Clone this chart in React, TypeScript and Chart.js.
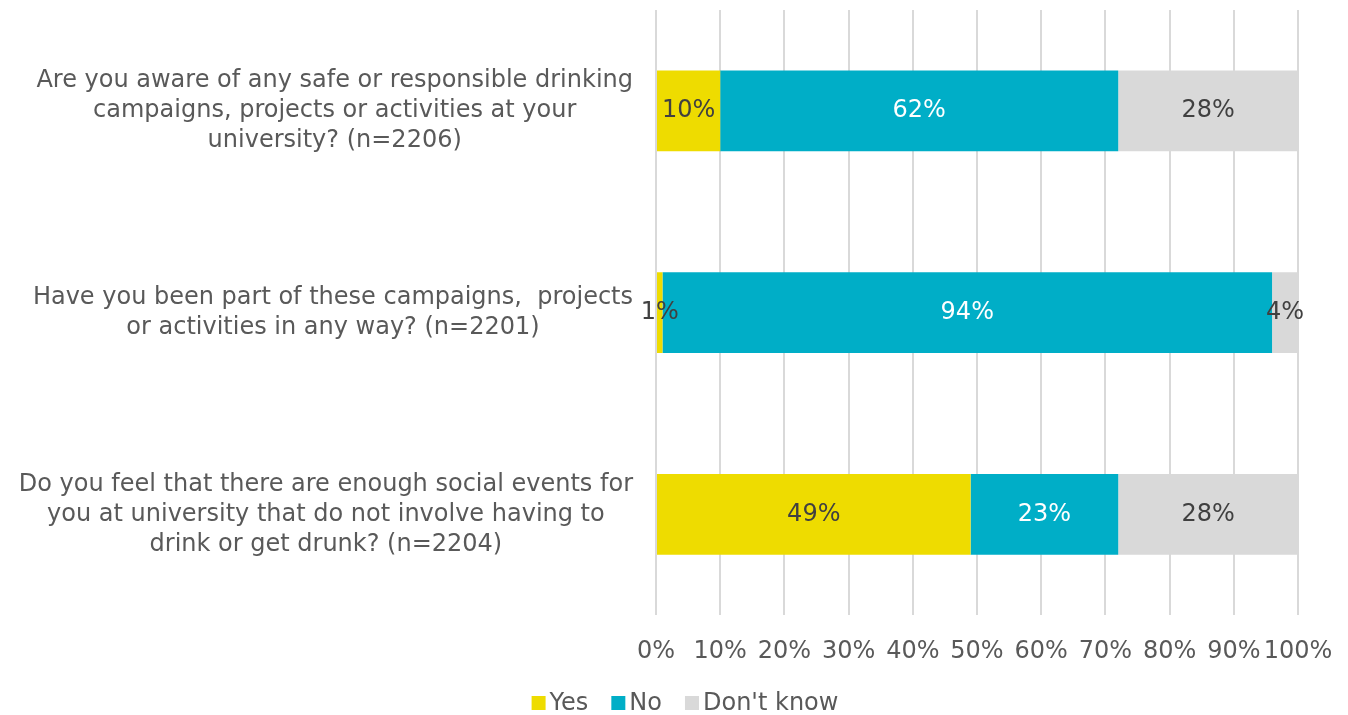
import React, { useEffect, useRef } from "react";
import { Chart, registerables } from "chart.js";

Chart.register(...registerables);

const categories: string[][] = [
  ["Are you aware of any safe or responsible drinking", "campaigns, projects or activities at your", "university? (n=2206)"],
  ["Have you been part of these campaigns,  projects", "or activities in any way? (n=2201)"],
  ["Do you feel that there are enough social events for", "you at university that do not involve having to", "drink or get drunk? (n=2204)"],
];
const seriesNames = ["Yes", "No", "Don't know"];
const yesValues = [10, 1, 49];
const noValues = [62, 94, 23];
const dontKnowValues = [28, 4, 28];
const seriesColors = ["#EEDC00", "#00AEC7", "#D9D9D9"];
const labelColors = ["#404040", "#FFFFFF", "#404040"];

const FONT = "'DejaVu Sans', Verdana, sans-serif";
const TEXT = "#595959";

const rawSeries = [yesValues, noValues, dontKnowValues];
const totals = categories.map((_, i) => rawSeries.reduce((s, arr) => s + arr[i], 0));

const dataLabelPlugin = {
  id: "dataLabels",
  afterDatasetsDraw(chart: any) {
    const { ctx } = chart;
    ctx.save();
    ctx.font = `24px ${FONT}`;
    ctx.textAlign = "center";
    ctx.textBaseline = "middle";
    chart.data.datasets.forEach((ds: any, di: number) => {
      const meta = chart.getDatasetMeta(di);
      meta.data.forEach((bar: any, i: number) => {
        const raw = rawSeries[di][i];
        const x = (bar.x + bar.base) / 2;
        ctx.fillStyle = labelColors[di];
        ctx.fillText(raw + "%", x, bar.y);
      });
    });
    ctx.restore();
  },
};

// Category labels: each label's lines centred on each other, block right-aligned to the axis
const categoryLabelPlugin = {
  id: "categoryLabels",
  afterDraw(chart: any) {
    const { ctx } = chart;
    const yScale = chart.scales.y;
    const right = chart.chartArea.left - 23;
    const lineH = 30;
    ctx.save();
    ctx.font = `24px ${FONT}`;
    ctx.fillStyle = TEXT;
    ctx.textAlign = "center";
    ctx.textBaseline = "middle";
    (chart.data.labels as string[][]).forEach((lines, i) => {
      const yc = yScale.getPixelForTick(i);
      const w = Math.max(...lines.map((l) => ctx.measureText(l).width));
      const xc = right - w / 2;
      lines.forEach((l, j) => {
        ctx.fillText(l, xc, yc + (j - (lines.length - 1) / 2) * lineH);
      });
    });
    ctx.restore();
  },
};

const legendPlugin = {
  id: "customLegend",
  afterDraw(chart: any) {
    const { ctx } = chart;
    const box = 14;
    const gap = 4;
    const spacing = 23;
    ctx.save();
    ctx.font = `24px ${FONT}`;
    ctx.textBaseline = "middle";
    ctx.textAlign = "left";
    const items = chart.data.datasets.map((ds: any) => ({
      text: ds.label,
      color: ds.backgroundColor,
      w: box + gap + ctx.measureText(ds.label).width,
    }));
    const total = items.reduce((s: number, it: any) => s + it.w, 0) + spacing * (items.length - 1);
    let x = 685 - total / 2;
    const y = 703;
    items.forEach((it: any) => {
      ctx.fillStyle = it.color;
      ctx.fillRect(x, y - box / 2, box, box);
      ctx.fillStyle = TEXT;
      ctx.fillText(it.text, x + box + gap, y + 1);
      x += it.w + spacing;
    });
    ctx.restore();
  },
};

export default function App() {
  const ref = useRef<HTMLCanvasElement | null>(null);
  useEffect(() => {
    if (!ref.current) return;
    const chart = new Chart(ref.current, {
      type: "bar",
      data: {
        labels: categories as any,
        datasets: rawSeries.map((arr, di) => ({
          label: seriesNames[di],
          data: arr.map((v, i) => (v / totals[i]) * 100),
          backgroundColor: seriesColors[di],
          borderWidth: 0,
          categoryPercentage: 1,
          barPercentage: 0.4,
        })),
      },
      options: {
        indexAxis: "y",
        responsive: false,
        animation: false,
        layout: { padding: { top: 10, right: 50, left: 0, bottom: 27 } },
        scales: {
          x: {
            stacked: true,
            min: 0,
            max: 100,
            ticks: {
              stepSize: 10,
              callback: (v: any) => v + "%",
              color: TEXT,
              font: { family: FONT, size: 24 },
              padding: 22,
              maxRotation: 0,
              autoSkip: false,
            },
            grid: { color: "#D9D9D9", lineWidth: 2, drawTicks: false },
            border: { display: false },
            afterFit: (scale: any) => {
              scale.paddingLeft = 0;
              scale.paddingRight = 0;
            },
          },
          y: {
            stacked: true,
            ticks: { display: false },
            grid: { display: false, drawTicks: false },
            border: { display: false },
            afterFit: (scale: any) => {
              scale.width = 656;
              scale.paddingTop = 0;
              scale.paddingBottom = 0;
            },
          },
        },
        plugins: {
          legend: { display: false },
          tooltip: { enabled: false },
        },
      },
      plugins: [dataLabelPlugin, categoryLabelPlugin, legendPlugin],
    });
    return () => chart.destroy();
  }, []);
  return (
    <div style={{ position: "absolute", left: 0, top: 0, width: 1348, height: 715, background: "#fff" }}>
      <canvas ref={ref} width={1348} height={715} style={{ display: "block" }} />
    </div>
  );
}
